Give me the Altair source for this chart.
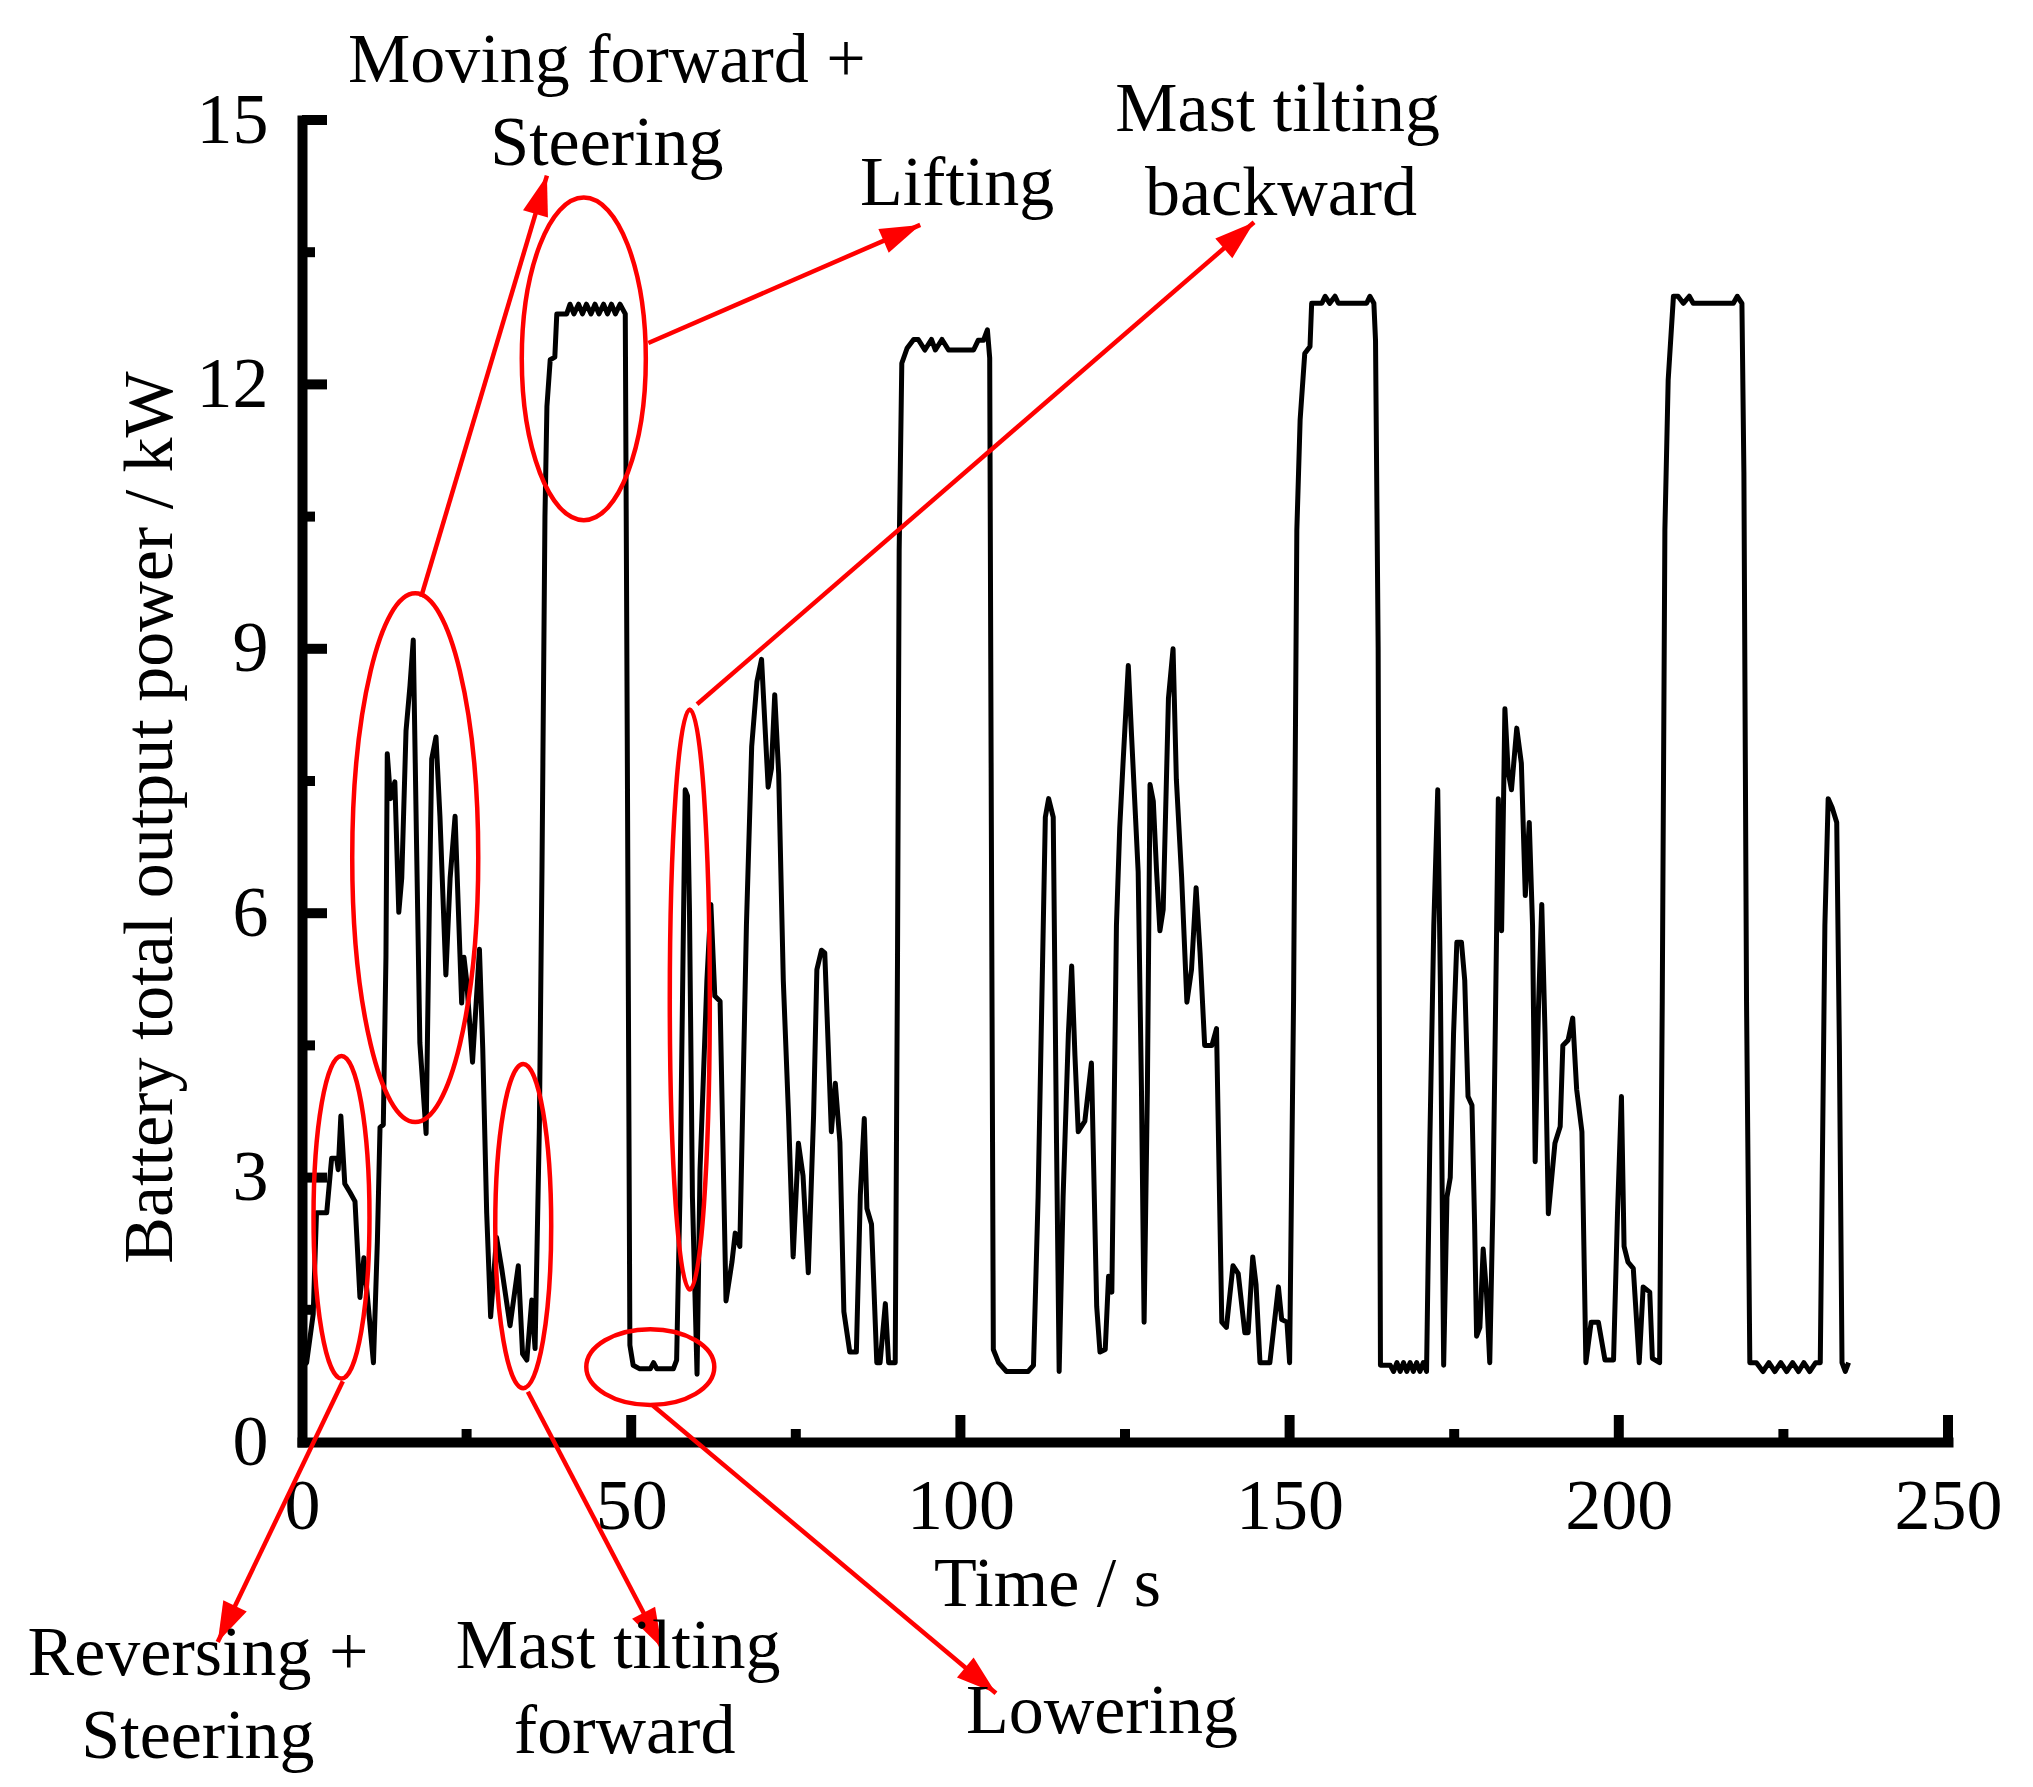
import math
import pandas as pd
import altair as alt

# ------------------------------------------------------------
# Data: battery output power vs time
# ------------------------------------------------------------

time_s = [
    0.0, 0.7, 1.7, 2.2, 3.75, 4.5, 5.25, 5.5, 5.9, 6.5, 7.3, 8.05, 8.8, 9.4, 10.85,
    11.45, 11.85, 12.35, 12.75, 12.95, 13.45, 14.1, 14.7, 15.15, 15.8, 16.4, 16.9,
    17.4, 17.9, 18.85, 19.35, 19.7, 20.35, 20.95, 21.85, 22.5, 23.25, 24.25, 24.6,
    25.0, 25.9, 26.95, 27.45, 28.05, 28.65, 29.55, 30.35, 31.6, 32.85, 33.5, 34.15,
    34.9, 35.4, 36.05, 36.45, 36.9, 37.2, 37.7, 38.4, 38.7, 40.2, 40.7, 41.3, 42.0,
    42.6, 43.2, 43.9, 44.5, 45.1, 45.8, 46.4, 47.0, 47.6, 48.3, 49.1, 49.4, 49.8,
    50.3, 51.3, 52.9, 53.4, 53.9, 56.4, 56.9, 57.4, 58.2, 58.55, 58.85, 59.3, 60.0,
    60.45, 61.5, 62.1, 62.7, 63.5, 64.4, 65.3, 65.8, 66.5, 67.5, 68.3, 69.1, 69.8,
    70.8, 71.3, 71.8, 72.4, 73.1, 73.9, 74.6, 75.4, 76.1, 76.9, 77.7, 78.2, 78.9,
    79.4, 80.4, 81.0, 81.7, 82.3, 83.2, 84.2, 84.8, 85.4, 85.8, 86.5, 87.3, 87.8,
    88.6, 89.1, 90.1, 90.45, 90.7, 91.1, 91.9, 92.9, 93.6, 94.6, 95.6, 96.2, 97.2,
    98.2, 102.0, 102.7, 103.5, 104.1, 104.45, 104.7, 105.0, 105.8, 107.0, 110.3,
    111.1, 111.8, 112.9, 113.4, 114.1, 114.6, 115.0, 115.6, 116.4, 116.9, 117.4,
    117.9, 118.9, 119.9, 120.7, 121.2, 122.0, 122.5, 123.0, 123.7, 124.2, 124.7,
    125.5, 126.0, 127.0, 127.5, 127.9, 128.4, 128.8, 129.3, 129.8, 130.3, 130.8,
    131.6, 132.3, 132.8, 133.6, 134.4, 135.1, 135.8, 136.4, 137.1, 138.2, 138.9,
    139.7, 140.4, 141.4, 142.2, 143.2, 143.7, 144.4, 144.9, 145.5, 147.0, 148.3,
    148.8, 149.6, 150.0, 150.6, 151.1, 151.6, 152.3, 153.1, 153.35, 154.9, 155.4,
    156.1, 156.9, 157.4, 161.7, 162.2, 162.8, 163.05, 163.45, 163.8, 165.3, 165.8,
    166.3, 166.8, 167.3, 167.8, 168.3, 168.8, 169.3, 169.8, 170.3, 170.8, 171.3,
    171.9, 172.5, 172.9, 173.4, 173.9, 174.4, 174.9, 175.4, 176.1, 176.6, 177.1,
    177.7, 178.1, 178.4, 178.9, 179.4, 179.9, 180.4, 180.9, 181.45, 181.7, 182.2,
    182.7, 183.2, 183.7, 184.5, 185.2, 185.8, 186.4, 186.9, 187.3, 187.8, 188.3,
    188.8, 189.3, 190.3, 191.1, 191.5, 192.3, 193.0, 193.6, 194.4, 195.0, 195.8,
    196.9, 197.9, 199.2, 199.8, 200.4, 200.8, 201.4, 202.2, 203.1, 203.7, 204.7,
    205.1, 206.2, 206.6, 207.0, 207.5, 208.3, 209.0, 209.8, 210.7, 211.3, 217.4,
    218.0, 218.7, 219.0, 219.4, 219.9, 220.9, 221.9, 222.8, 223.7, 224.6, 225.5,
    226.4, 227.3, 228.1, 229.0, 229.9, 230.6, 231.3, 231.8, 232.4, 233.1, 233.5,
    233.9, 234.4, 234.9,
]

power_kw = [
    0.85, 0.9, 1.45, 2.6, 2.6, 3.22, 3.22, 3.09, 3.7, 2.93, 2.83, 2.73, 1.64, 2.09, 0.9,
    2.28, 3.57, 3.6, 5.5, 7.81, 7.3, 7.49, 6.01, 6.4, 8.07, 8.58, 9.1,
    6.78, 4.53, 3.5, 6.14, 7.75, 8.0, 7.1, 5.3, 6.4, 7.1, 4.98, 5.5,
    5.24, 4.31, 5.59, 4.47, 2.6, 1.42, 2.32, 1.96, 1.32, 2.0, 1.0, 0.93,
    1.61, 1.06, 3.57, 6.5, 10.5, 11.75, 12.28, 12.31, 12.8, 12.8, 12.91, 12.8, 12.91,
    12.8, 12.91, 12.8, 12.91, 12.8, 12.91, 12.8, 12.91, 12.8, 12.91, 12.8, 8.0, 1.1,
    0.87, 0.83, 0.83, 0.9, 0.83, 0.83, 0.93, 2.78, 7.4, 7.33, 6.04, 2.78, 0.77,
    3.08, 5.24, 6.1, 5.06, 5.0, 1.6, 2.04, 2.37, 2.22, 5.86, 7.89, 8.63, 8.88,
    7.43, 7.64, 8.48, 7.58, 5.24, 3.7, 2.1, 3.39, 3.02, 1.92, 3.7, 5.36, 5.58,
    5.55, 3.52, 4.07, 3.4, 1.48, 1.02, 1.02, 2.8, 3.67, 2.65, 2.47, 0.9, 0.9,
    1.57, 0.9, 0.9, 5.5, 10.12, 12.24, 12.41, 12.51, 12.51, 12.39, 12.51, 12.39, 12.51,
    12.39, 12.39, 12.5, 12.5, 12.62, 12.3, 7.0, 1.05, 0.9, 0.8, 0.8,
    0.87, 2.78, 7.09, 7.3, 7.09, 3.4, 0.8, 2.78, 4.63, 5.4, 4.38,
    3.52, 3.64, 4.3, 1.54, 1.02, 1.05, 1.88, 1.7, 5.86, 6.97, 7.7,
    8.81, 8.01, 6.47, 4.0, 1.36, 4.0, 7.46, 7.27, 6.47, 5.8, 6.04,
    8.44, 9.0, 7.52, 6.41, 4.99, 5.36, 6.29, 5.55, 4.5, 4.5, 4.69,
    1.36, 1.3, 2.0, 1.91, 1.24, 1.24, 2.1, 1.79, 0.9, 0.9, 1.76,
    1.39, 1.36, 0.9, 5.0, 10.35, 11.6, 12.35, 12.43, 12.92, 12.92, 13.0,
    12.92, 13.0, 12.92, 12.92, 13.0, 12.92, 12.5, 9.0, 0.87, 0.87, 0.8,
    0.9, 0.8, 0.9, 0.8, 0.9, 0.8, 0.9, 0.8, 0.9, 0.8, 3.4,
    5.86, 7.4, 5.2, 0.87, 2.78, 3.0, 4.63, 5.67, 5.67, 5.24, 3.92,
    3.82, 2.47, 1.2, 1.3, 2.19, 1.7, 0.9, 2.78, 5.86, 7.3, 5.8,
    8.32, 7.6, 7.4, 8.1, 7.7, 6.2, 7.03, 5.86, 3.18, 4.93, 6.1,
    4.63, 2.59, 3.39, 3.58, 4.5, 4.56, 4.81, 4.0, 3.52, 0.9, 1.36,
    1.36, 0.93, 0.93, 2.59, 3.92, 2.22, 2.04, 1.97, 0.9, 1.76, 1.7,
    0.95, 0.9, 5.0, 10.35, 12.05, 13.0, 13.0, 12.92, 13.0, 12.92, 12.92,
    13.0, 12.92, 11.0, 5.0, 0.9, 0.9, 0.8, 0.9, 0.8, 0.9, 0.8,
    0.9, 0.8, 0.9, 0.8, 0.9, 0.9, 5.86, 7.3, 7.2, 7.03, 4.5,
    0.9, 0.8, 0.9,
]

x_ticks = [0, 50, 100, 150, 200, 250]
x_minor = [25, 75, 125, 175, 225]
y_ticks = [0, 3, 6, 9, 12, 15]
y_minor = [1.5, 4.5, 7.5, 10.5, 13.5]

# annotation text, one row per line, anchored in data units
label_text = ["Moving forward +", "Steering", "Lifting", "Mast tilting", "backward",
              "Reversing +", "Steering", "Mast tilting", "forward", "Lowering"]
label_t = [46.3, 46.3, 99.5, 148.2, 148.7, -15.8, -15.8, 48.0, 49.0, 121.5]
label_v = [15.43, 14.49, 14.04, 14.87, 13.92, -2.64, -3.59, -2.56, -3.53, -3.30]

# ellipses around the operating phases (centre and half extents in data units)
ell_t = [6.0, 17.2, 33.6, 52.9, 58.9, 42.8]
ell_v = [2.55, 6.63, 2.45, 0.85, 5.02, 12.29]
ell_rt = [4.25, 9.57, 4.25, 9.72, 3.04, 9.42]
ell_rv = [1.83, 3.0, 1.84, 0.43, 3.29, 1.83]

# arrows: from ellipse to label
arr_t0 = [6.2, 18.1, 34.3, 53.2, 60.0, 52.6]
arr_v0 = [0.69, 9.59, 0.57, 0.42, 8.37, 12.47]
arr_t1 = [-12.8, 37.2, 54.7, 105.4, 144.6, 93.9]
arr_v1 = [-2.27, 14.37, -2.34, -2.85, 13.84, 13.81]

# ------------------------------------------------------------
# Layout
# ------------------------------------------------------------

W, H = 1646, 1322
SX, SY = W / 250, H / 15          # px per data unit
FONT = "Liberation Serif"
RED = "#ff0000"

xs = alt.Scale(domain=[0, 250], nice=False, zero=False)
ys = alt.Scale(domain=[0, 15], nice=False, zero=False)

# same axis definitions on every layer so the merged axes stay intact
x_axis = alt.Axis(
    values=x_ticks, title="Time / s", ticks=False, tickSize=0, labelPadding=29,
    labelFlush=False, labelOverlap=False, titleX=745, titleY=163,
    titleAlign="center", titleBaseline="alphabetic",
)
y_axis = alt.Axis(
    values=y_ticks, title="Battery total output power / kW", ticks=False, tickSize=0,
    labelPadding=34, labelFlush=False, labelOverlap=False, titleX=-131, titleY=697,
    titleAngle=270, titleAlign="center", titleBaseline="alphabetic",
)


def X(field):
    return alt.X(field, type="quantitative", scale=xs, axis=x_axis)


def Y(field):
    return alt.Y(field, type="quantitative", scale=ys, axis=y_axis)


series = pd.DataFrame({"t": time_s, "p": power_kw})

line = alt.Chart(series).mark_line(
    color="black", strokeWidth=5, strokeJoin="round"
).encode(x=X("t"), y=Y("p"))


def x_tick_layer(values, length):
    df = pd.DataFrame({"pos": values, "zero": 0})
    return alt.Chart(df).mark_rule(
        color="black", strokeWidth=10, strokeCap="butt", y2Offset=-length
    ).encode(x=X("pos"), y=Y("zero"), y2="zero")


def y_tick_layer(values, length):
    df = pd.DataFrame({"pos": values, "zero": 0})
    return alt.Chart(df).mark_rule(
        color="black", strokeWidth=10, strokeCap="butt", x2Offset=length
    ).encode(y=Y("pos"), x=X("zero"), x2="zero")


ticks = [
    x_tick_layer(x_ticks[1:], 27),
    x_tick_layer(x_minor, 13),
    y_tick_layer(y_ticks[1:], 25),
    y_tick_layer(y_minor, 13),
]

# ellipses as custom symbol paths
C = 0.5523
ellipses = []
for t, v, rt, rv in zip(ell_t, ell_v, ell_rt, ell_rv):
    rx, ry = rt * SX, rv * SY
    r = max(rx, ry)
    a, b = rx / r, ry / r
    path = (
        f"M {a} 0 C {a} {C*b} {C*a} {b} 0 {b} C {-C*a} {b} {-a} {C*b} {-a} 0 "
        f"C {-a} {-C*b} {-C*a} {-b} 0 {-b} C {C*a} {-b} {a} {-C*b} {a} 0 Z"
    )
    ellipses.append(
        alt.Chart(pd.DataFrame({"t": [t], "v": [v]})).mark_point(
            shape=path, size=(2 * r) ** 2, filled=False, stroke=RED, strokeWidth=4.5,
            opacity=1,
        ).encode(x=X("t"), y=Y("v"))
    )

arrows = pd.DataFrame({"t0": arr_t0, "v0": arr_v0, "t1": arr_t1, "v1": arr_v1})
arrows["ang"] = [
    math.degrees(math.atan2((b_t - a_t) * SX, (b_v - a_v) * SY)) % 360
    for a_t, a_v, b_t, b_v in zip(arr_t0, arr_v0, arr_t1, arr_v1)
]

arrow_lines = alt.Chart(arrows).mark_rule(color=RED, strokeWidth=4.5).encode(
    x=X("t0"), y=Y("v0"), x2="t1", y2="v1",
)

arrow_heads = alt.Chart(arrows).mark_point(
    shape="M 0 0 L 0.65 2 L -0.65 2 Z", size=1600, filled=True, fill=RED,
    strokeWidth=0, opacity=1,
).encode(
    x=X("t1"), y=Y("v1"),
    angle=alt.Angle("ang:Q", scale=None),
)

labels = alt.Chart(
    pd.DataFrame({"txt": label_text, "t": label_t, "v": label_v})
).mark_text(
    font=FONT, fontSize=70, align="center", baseline="alphabetic", color="black",
).encode(x=X("t"), y=Y("v"), text="txt:N")

chart = (
    alt.layer(line, *ticks, *ellipses, arrow_lines, arrow_heads, labels)
    .properties(
        width=W,
        height=H,
        autosize=alt.AutoSizeParams(type="none"),
        padding={"left": 294, "top": 112, "right": 75, "bottom": 331},
        background="white",
    )
    .configure_view(stroke=None)
    .configure_axis(
        domainColor="black",
        domainWidth=10,
        domainCap="square",
        grid=False,
        labelFont=FONT,
        labelFontSize=72,
        labelColor="black",
        titleFont=FONT,
        titleFontSize=70,
        titleFontWeight="normal",
        titleColor="black",
    )
)

chart.save("out.html", embed_options={"renderer": "svg", "actions": False})
